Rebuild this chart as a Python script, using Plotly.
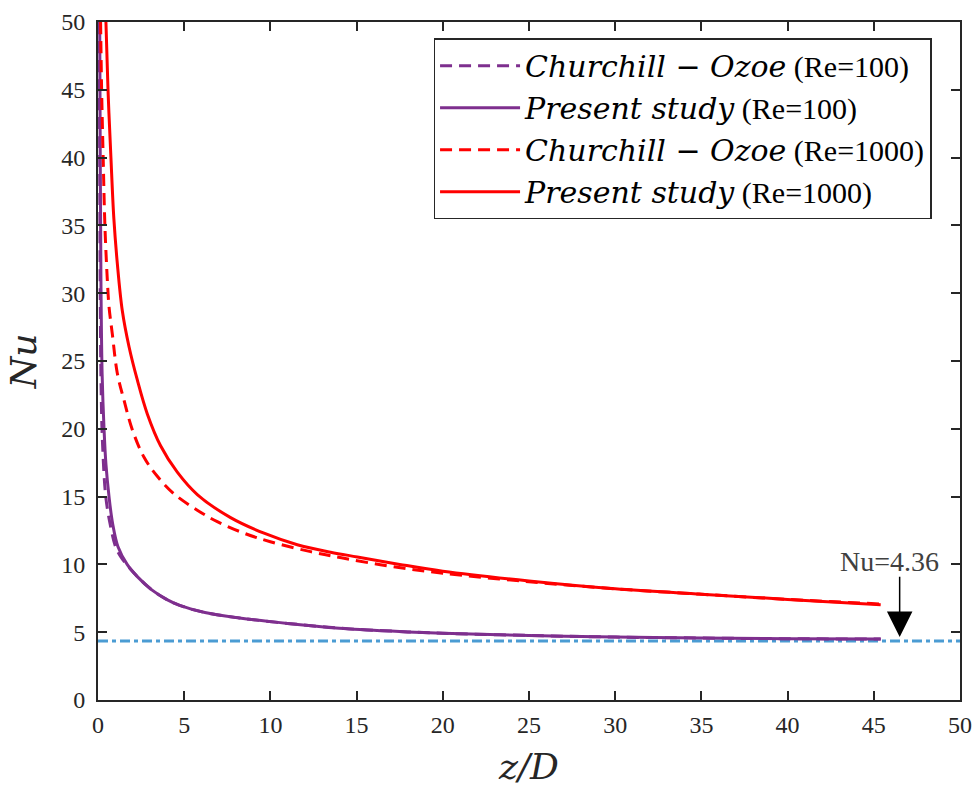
import plotly.graph_objects as go

# Churchill–Ozoe correlation, Re = 100
z_co_100 = [0.07, 0.1, 0.13, 0.18, 0.26, 0.45, 0.7, 1.02, 1.3, 1.65, 2.28, 3.14, 4.0, 4.7, 6.2,
            8.2, 11, 14, 17, 20, 25, 30, 35, 40, 45.4]
nu_co_100 = [50, 40, 30, 23, 19, 15, 13.0, 11.3, 10.6, 10.0, 9.1, 8.1, 7.4, 7.0, 6.45,
             6.05, 5.65, 5.3, 5.08, 4.92, 4.76, 4.64, 4.57, 4.52, 4.49]

# Present study, Re = 100
z_ps_100 = [0.1, 0.13, 0.17, 0.24, 0.35, 0.46, 0.64, 0.85, 1.16, 1.69, 2.28, 3.14, 4.0, 4.7,
            6.2, 8.2, 11, 14, 17, 20, 25, 30, 35, 40, 45.4]
nu_ps_100 = [50, 40, 31, 24, 20, 17.4, 15.0, 13.0, 11.3, 10.0, 9.1, 8.1, 7.4, 7.0,
             6.45, 6.05, 5.65, 5.3, 5.08, 4.92, 4.76, 4.64, 4.57, 4.52, 4.49]

# Churchill–Ozoe correlation, Re = 1000
z_co_1000 = [0.15, 0.21, 0.3, 0.4, 0.54, 0.64, 0.83, 1.12, 1.51, 2.0, 2.67, 3.44, 4.41, 5.76,
             6.92, 8.47, 10.0, 12.33, 14.27, 17, 20, 25, 30, 35, 40, 45.4]
nu_co_1000 = [50, 45, 40, 35, 31.0, 29.0, 27.0, 24.1, 22.1, 19.9, 17.9, 16.5, 15.2, 14.0,
              13.15, 12.3, 11.67, 10.94, 10.45, 9.85, 9.35, 8.72, 8.2, 7.8, 7.42, 7.08]

# Present study, Re = 1000
z_ps_1000 = [0.46, 0.58, 0.75, 0.92, 1.12, 1.41, 1.80, 2.28, 2.86, 3.63, 4.60, 5.76, 7.69,
             9.63, 11.56, 13.49, 15.04, 17.5, 20, 25, 30, 35, 40, 45.4]
nu_ps_1000 = [50, 45, 40, 35.5, 32.2, 28.7, 26.05, 23.6, 21.1, 18.75, 16.8, 15.15, 13.45,
              12.3, 11.45, 10.9, 10.55, 10.0, 9.5, 8.78, 8.2, 7.8, 7.42, 7.03]

# Fully developed limit
nu_fd = 4.36
z_fd = [0, 50]

x_ticks = list(range(0, 51, 5))
y_ticks = list(range(0, 51, 5))

PURPLE = "#7E2F8E"
RED = "#FF0000"
BLUE = "#4B9CD3"
AXIS = "#262626"


def name(italic, re):
    return ("<span style=\"font-family:'DejaVu Serif'\"><i>" + italic +
            "</i></span> (Re=" + re + ")")


curve = dict(width=3, shape="spline", smoothing=1.0)

fig = go.Figure()
fig.add_trace(go.Scatter(x=z_fd, y=[nu_fd, nu_fd], mode="lines", showlegend=False,
                         line=dict(color=BLUE, width=3, dash="10px,4px,4px,4px")))
fig.add_trace(go.Scatter(x=z_co_100, y=nu_co_100, mode="lines",
                         name=name("Churchill − Ozoe", "100"),
                         line=dict(color=PURPLE, dash="12px,7px", **curve)))
fig.add_trace(go.Scatter(x=z_ps_100, y=nu_ps_100, mode="lines",
                         name=name("Present study", "100"),
                         line=dict(color=PURPLE, **curve)))
fig.add_trace(go.Scatter(x=z_co_1000, y=nu_co_1000, mode="lines",
                         name=name("Churchill − Ozoe", "1000"),
                         line=dict(color=RED, dash="12px,7px", **curve)))
fig.add_trace(go.Scatter(x=z_ps_1000, y=nu_ps_1000, mode="lines",
                         name=name("Present study", "1000"),
                         line=dict(color=RED, **curve)))

# Label and arrow for the fully developed value
fig.add_annotation(x=45.9, y=10.2, xref="x", yref="y", text="Nu=4.36", showarrow=False,
                   font=dict(family="Liberation Serif", size=28, color="#404040"))
fig.add_annotation(x=46.5, y=4.65, ax=46.5, ay=9.2, xref="x", yref="y", axref="x", ayref="y",
                   text="", showarrow=True, arrowhead=2, arrowsize=3.4, arrowwidth=1.5,
                   arrowcolor="black")

axis_common = dict(showline=True, linecolor=AXIS, linewidth=2, mirror="ticks",
                   ticks="inside", ticklen=9, tickwidth=2, tickcolor=AXIS,
                   showgrid=False, zeroline=False, automargin=False,
                   tickfont=dict(family="Liberation Serif", size=24, color=AXIS))

fig.update_xaxes(range=[0, 50], tickvals=x_ticks, ticktext=[str(v) for v in x_ticks],
                 ticklabelstandoff=2,
                 title=dict(text="<i>z/D</i>", standoff=18,
                            font=dict(family="DejaVu Serif", size=36, color=AXIS)),
                 **axis_common)
fig.update_yaxes(range=[0, 50], tickvals=y_ticks, ticktext=[str(v) for v in y_ticks],
                 ticklabelstandoff=6,
                 title=dict(text="<i>Nu</i>", standoff=14,
                            font=dict(family="DejaVu Serif", size=36, color=AXIS)),
                 **axis_common)

fig.update_layout(
    width=974, height=787,
    margin=dict(l=98, r=14, t=22, b=87),
    plot_bgcolor="white", paper_bgcolor="white",
    legend=dict(x=0.967, y=0.976, xanchor="right", yanchor="top",
                bgcolor="white", bordercolor=AXIS, borderwidth=1.5,
                font=dict(family="Liberation Serif", size=30, color="black"),
                itemwidth=80, tracegroupgap=0),
)

fig.write_html("out.html")
